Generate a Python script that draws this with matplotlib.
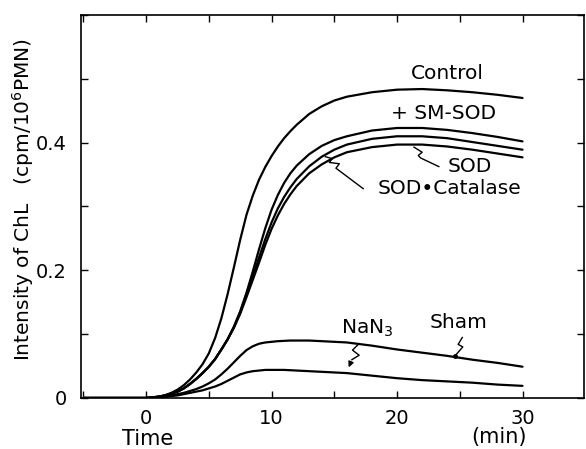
import matplotlib
matplotlib.use("Agg")
import matplotlib.pyplot as plt
from matplotlib.ticker import MultipleLocator, FixedLocator, FixedFormatter

time = [-5, 0,
        1, 1.5, 2, 2.5, 3, 3.5, 4, 4.5, 5, 5.5, 6, 6.5, 7, 7.5, 8, 8.5, 9, 9.5, 10, 10.5, 11, 11.5, 12,
        13, 14, 15, 16, 18, 20, 22, 24, 26, 28, 30]

control = [0, 0,
           0.002, 0.004, 0.008, 0.013, 0.02, 0.029, 0.04, 0.053, 0.07, 0.094, 0.125, 0.163, 0.205,
           0.248, 0.287, 0.317, 0.342, 0.362, 0.379, 0.394, 0.407, 0.418, 0.428,
           0.445, 0.457, 0.466, 0.472, 0.479, 0.483, 0.484, 0.482, 0.479, 0.475, 0.47]
sm_sod = [0, 0,
          0.002, 0.004, 0.007, 0.01, 0.015, 0.022, 0.03, 0.039, 0.049, 0.061, 0.076, 0.092, 0.112,
          0.136, 0.165, 0.198, 0.233, 0.266, 0.295, 0.318, 0.337, 0.352, 0.364,
          0.382, 0.395, 0.404, 0.410, 0.419, 0.423, 0.423, 0.420, 0.415, 0.409, 0.402]
sod = [0, 0,
       0.002, 0.004, 0.007, 0.01, 0.015, 0.022, 0.03, 0.039, 0.049, 0.061, 0.076, 0.092, 0.111,
       0.134, 0.162, 0.191, 0.22, 0.249, 0.275, 0.297, 0.315, 0.33, 0.343,
       0.363, 0.378, 0.389, 0.397, 0.406, 0.410, 0.410, 0.407, 0.401, 0.395, 0.389]
sod_cat = [0, 0,
           0.002, 0.004, 0.007, 0.01, 0.015, 0.022, 0.03, 0.039, 0.049, 0.061, 0.076, 0.092, 0.11,
           0.132, 0.158, 0.185, 0.212, 0.24, 0.265, 0.286, 0.304, 0.319, 0.332,
           0.352, 0.366, 0.377, 0.385, 0.393, 0.397, 0.397, 0.394, 0.389, 0.383, 0.377]
sham = [0, 0,
        0.001, 0.002, 0.004, 0.006, 0.008, 0.011, 0.014, 0.018, 0.023, 0.029, 0.037, 0.046, 0.056,
        0.066, 0.075, 0.081, 0.085, 0.087, 0.088, 0.089, 0.0895, 0.09, 0.09,
        0.09, 0.089, 0.088, 0.087, 0.082, 0.076, 0.071, 0.066, 0.06, 0.055, 0.049]
nan3 = [0, 0,
        0.001, 0.002, 0.003, 0.004, 0.006, 0.008, 0.01, 0.012, 0.015, 0.018, 0.022, 0.027, 0.032,
        0.037, 0.04, 0.042, 0.043, 0.044, 0.044, 0.044, 0.044, 0.0435, 0.043,
        0.042, 0.041, 0.04, 0.039, 0.035, 0.031, 0.028, 0.026, 0.024, 0.021, 0.019]

x_major = [0, 10, 20, 30]
x_labels = ["0", "10", "20", "30"]
y_major = [0, 0.2, 0.4]
y_labels = ["0", "0.2", "0.4"]

plt.rcParams['font.family'] = ['DejaVu Sans']

fig = plt.figure(figsize=(5.86, 4.49), dpi=100)
ax = fig.add_axes([0.138, 0.1136, 0.8586, 0.853])

for s in [control, sm_sod, sod, sod_cat, sham, nan3]:
    ax.plot(time, s, color='black', lw=1.6, solid_capstyle='round', solid_joinstyle='round')

ax.set_xlim(-5.2, 34.9)
ax.set_ylim(0, 0.6)

ax.xaxis.set_major_locator(FixedLocator(x_major))
ax.xaxis.set_major_formatter(FixedFormatter(x_labels))
ax.xaxis.set_minor_locator(MultipleLocator(5))
ax.yaxis.set_major_locator(FixedLocator(y_major))
ax.yaxis.set_major_formatter(FixedFormatter(y_labels))
ax.yaxis.set_minor_locator(MultipleLocator(0.1))
ax.tick_params(which='both', direction='in', top=True, right=True, labelsize=14, width=1)
ax.tick_params(which='both', length=5)
ax.tick_params(axis='x', pad=8)
ax.tick_params(axis='y', pad=10)
for sp in ax.spines.values():
    sp.set_linewidth(1.2)

fs = 14.5
ax.text(24.0, 0.508, "Control", fontsize=fs, ha='center', va='center')
ax.text(23.7, 0.445, "+ SM-SOD", fontsize=fs, ha='center', va='center')
ax.text(25.8, 0.362, "SOD", fontsize=fs, ha='center', va='center')
ax.text(24.2, 0.328, "SOD\u2022Catalase", fontsize=fs, ha='center', va='center')
ax.text(17.6, 0.109, "NaN$_3$", fontsize=fs, ha='center', va='center')
ax.text(24.9, 0.119, "Sham", fontsize=fs, ha='center', va='center')

# squiggle pointers
ax.plot([23.33, 21.88, 21.69, 22.0, 21.35], [0.3625, 0.376, 0.380, 0.385, 0.393],
        color='black', lw=1)
ax.plot([17.3, 15.13, 15.4, 14.6, 14.84, 14.29], [0.328, 0.360, 0.367, 0.369, 0.375, 0.378],
        color='black', lw=1)
ax.annotate("", xy=(16.06, 0.044), xytext=(16.4, 0.060),
            arrowprops=dict(arrowstyle='-|>', color='black', lw=1, mutation_scale=8))
ax.plot([16.85, 16.45, 16.98, 16.4], [0.0828, 0.075, 0.067, 0.060], color='black', lw=1)
ax.plot([25.2, 24.87, 25.24, 24.6], [0.0948, 0.084, 0.080, 0.0656], color='black', lw=1)
ax.plot([24.6], [0.0656], marker='o', ms=2.5, color='black')

fig.text(0.040, 0.555, "Intensity of ChL   (cpm/10$^6$PMN)", rotation=90, fontsize=14.5,
         ha='center', va='center')
fig.text(0.252, 0.022, "Time", fontsize=15, ha='center', va='center')
fig.text(0.851, 0.027, "(min)", fontsize=15, ha='center', va='center')

fig.savefig("out.png", dpi=100)
